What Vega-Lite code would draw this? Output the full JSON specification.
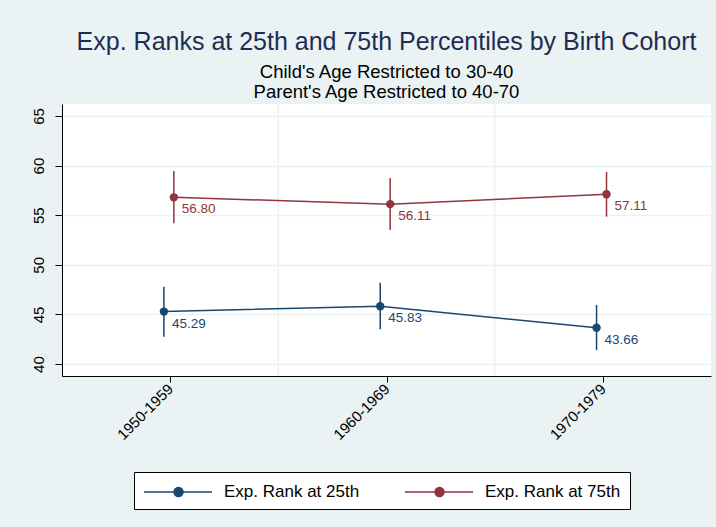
{
  "$schema": "https://vega.github.io/schema/vega-lite/v6.json",
  "autosize": {"type": "none"},
  "width": 649,
  "height": 272,
  "padding": {"left": 62, "top": 104, "right": 5, "bottom": 151},
  "background": "#eaf2f3",
  "config": {
    "font": "Liberation Sans",
    "view": {"fill": "white", "stroke": null}
  },
  "title": {
    "text": "Exp. Ranks at 25th and 75th Percentiles by Birth Cohort",
    "subtitle": ["Child's Age Restricted to 30-40", "Parent's Age Restricted to 40-70"],
    "anchor": "middle",
    "fontSize": 25,
    "fontWeight": "normal",
    "color": "#1e2d54",
    "subtitleFontSize": 18.5,
    "subtitleColor": "black",
    "subtitlePadding": 8,
    "subtitleLineHeight": 19.5,
    "offset": 2
  },
  "datasets": {
    "ranks": [
      {"cohort": "1950-1959", "xpos": 0.971, "series": "Exp. Rank at 25th", "value": 45.29, "lo": 42.75, "hi": 47.80},
      {"cohort": "1960-1969", "xpos": 1.971, "series": "Exp. Rank at 25th", "value": 45.83, "lo": 43.50, "hi": 48.20},
      {"cohort": "1970-1979", "xpos": 2.971, "series": "Exp. Rank at 25th", "value": 43.66, "lo": 41.40, "hi": 45.95},
      {"cohort": "1950-1959", "xpos": 1.017, "series": "Exp. Rank at 75th", "value": 56.80, "lo": 54.18, "hi": 59.46},
      {"cohort": "1960-1969", "xpos": 2.017, "series": "Exp. Rank at 75th", "value": 56.11, "lo": 53.50, "hi": 58.75},
      {"cohort": "1970-1979", "xpos": 3.017, "series": "Exp. Rank at 75th", "value": 57.11, "lo": 54.85, "hi": 59.35}
    ],
    "vgrid": [{"g": 1.5}, {"g": 2.5}]
  },
  "layer": [
    {
      "data": {"name": "vgrid"},
      "mark": {"type": "rule", "color": "#eaf2f3", "strokeWidth": 1.5},
      "encoding": {
        "x": {"field": "g", "type": "quantitative"}
      }
    },
    {
      "data": {"name": "ranks"},
      "mark": {"type": "line", "strokeWidth": 1.5},
      "encoding": {
        "x": {
          "field": "xpos", "type": "quantitative",
          "scale": {"domain": [0.5, 3.5], "nice": false, "zero": false},
          "axis": {
            "title": null,
            "values": [1, 2, 3],
            "labelExpr": "datum.value == 1 ? '1950-1959' : datum.value == 2 ? '1960-1969' : '1970-1979'",
            "labelAngle": -45,
            "labelAlign": "right",
            "labelBaseline": "middle",
            "labelFontSize": 15,
            "labelColor": "black",
            "labelPadding": 4,
            "tickSize": 6,
            "tickColor": "black",
            "domainColor": "black",
            "grid": false
          }
        },
        "y": {
          "field": "value", "type": "quantitative",
          "scale": {"domain": [38.8, 66.2], "nice": false, "zero": false},
          "axis": {
            "title": null,
            "values": [40, 45, 50, 55, 60, 65],
            "labelAngle": -90,
            "labelFontSize": 15,
            "labelColor": "black",
            "labelPadding": 9,
            "tickSize": 7,
            "tickColor": "black",
            "domainColor": "black",
            "grid": true,
            "gridColor": "#eaf2f3",
            "gridWidth": 1.5
          }
        },
        "color": {
          "field": "series", "type": "nominal",
          "scale": {"domain": ["Exp. Rank at 25th", "Exp. Rank at 75th"], "range": ["#1a476f", "#90353b"]},
          "legend": {
            "title": null,
            "orient": "none",
            "legendX": 72,
            "legendY": 368,
            "direction": "horizontal",
            "columns": 2,
            "columnPadding": 42,
            "padding": 9,
            "fillColor": "white",
            "strokeColor": "black",
            "labelFontSize": 17,
            "labelColor": "black",
            "labelOffset": 59,
            "labelExpr": "datum.value == 'Exp. Rank at 75th' ? datum.label + '\u00a0\u00a0\u00a0\u00a0' : datum.label",
            "symbolType": "M-1,0H5.8M2,0A0.45,0.45 0 1,1 2.9,0A0.45,0.45 0 1,1 2,0Z",
            "symbolSize": 400,
            "symbolStrokeWidth": 1.5,
            "encode": {
              "symbols": {
                "update": {
                  "fill": {"scale": "color", "field": "value"},
                  "stroke": {"scale": "color", "field": "value"},
                  "opacity": {"value": 1}
                }
              }
            }
          }
        }
      }
    },
    {
      "data": {"name": "ranks"},
      "mark": {"type": "rule", "strokeWidth": 1.5},
      "encoding": {
        "x": {"field": "xpos", "type": "quantitative"},
        "y": {"field": "lo", "type": "quantitative"},
        "y2": {"field": "hi"},
        "color": {"field": "series", "type": "nominal"}
      }
    },
    {
      "data": {"name": "ranks"},
      "mark": {"type": "point", "filled": true, "size": 70, "opacity": 1},
      "encoding": {
        "x": {"field": "xpos", "type": "quantitative"},
        "y": {"field": "value", "type": "quantitative"},
        "color": {"field": "series", "type": "nominal"}
      }
    },
    {
      "data": {"name": "ranks"},
      "mark": {"type": "text", "align": "left", "baseline": "middle", "dx": 8, "dy": 12, "fontSize": 13.5},
      "encoding": {
        "x": {"field": "xpos", "type": "quantitative"},
        "y": {"field": "value", "type": "quantitative"},
        "text": {"field": "value", "type": "quantitative", "format": ".2f"},
        "color": {"field": "series", "type": "nominal"}
      }
    }
  ]
}
